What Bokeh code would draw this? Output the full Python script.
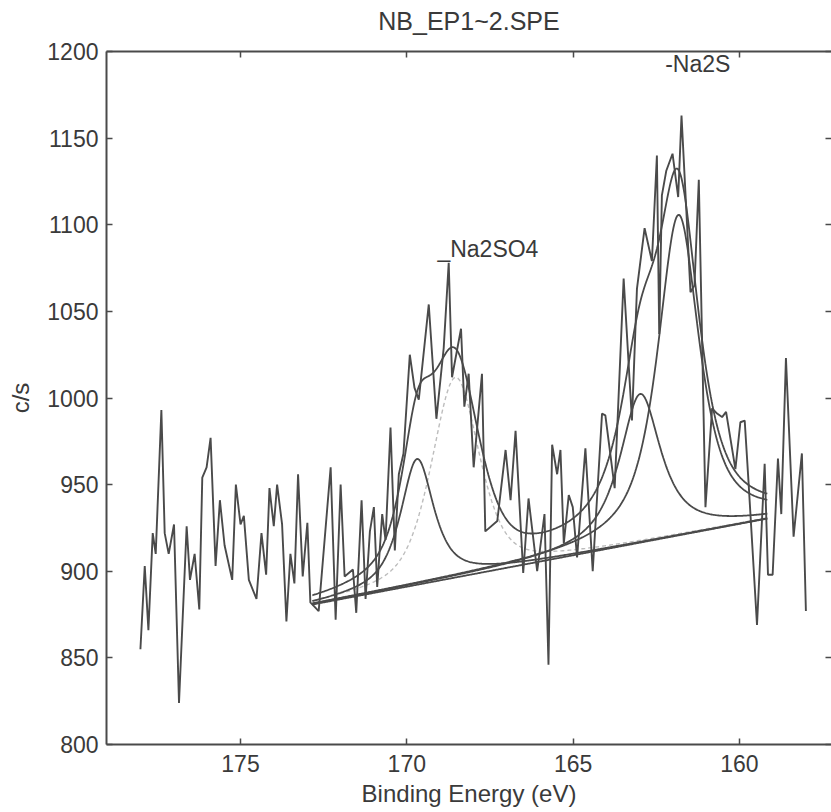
import numpy as np
from bokeh.plotting import figure
from bokeh.models import Range1d, FixedTicker, LinearAxis, Label
from bokeh.embed import file_html
from bokeh.resources import INLINE

# ---- measured spectrum: binding energy (eV) and count rate (c/s) ----
binding_energy = [
    178.01, 177.88, 177.77, 177.64, 177.55, 177.38, 177.28, 177.16, 177.00, 176.85,
    176.62, 176.52, 176.38, 176.24, 176.15, 176.02, 175.90, 175.75, 175.62, 175.48,
    175.25, 175.14, 175.00, 174.90, 174.75, 174.52, 174.37, 174.23, 174.13, 174.00,
    173.90, 173.75, 173.62, 173.50, 173.38, 173.27, 173.13, 172.99, 172.90, 172.65,
    172.29, 172.14, 171.99, 171.87, 171.62, 171.52, 171.36, 171.24, 171.11, 170.99,
    170.89, 170.74, 170.64, 170.49, 170.36, 170.24, 170.10, 169.91, 169.77, 169.64,
    169.34, 169.11, 168.89, 168.74, 168.64, 168.37, 168.27, 168.14, 167.99, 167.74,
    167.64, 167.28, 167.03, 166.88, 166.73, 166.50, 166.34, 166.08, 165.86, 165.74,
    165.63, 165.48, 165.38, 165.28, 165.13, 165.01, 164.88, 164.63, 164.41, 164.13,
    164.03, 163.75, 163.48, 163.23, 163.08, 162.85, 162.63, 162.48, 162.41, 162.33,
    162.20, 162.01, 161.84, 161.74, 161.47, 161.35, 161.22, 161.02, 160.82, 160.67,
    160.52, 160.40, 160.12, 159.97, 159.84, 159.72, 159.47, 159.24, 159.14, 159.00,
    158.84, 158.74, 158.60, 158.37, 158.12, 158.00,
]
counts = [
    855, 903, 866, 922, 910, 993, 922, 910, 927, 824,
    926, 895, 910, 878, 954, 960, 977, 903, 941, 915,
    895, 950, 927, 932, 895, 884, 922, 898, 948, 926,
    950, 927, 871, 910, 893, 956, 897, 928, 882, 877,
    960, 872, 950, 897, 901, 876, 941, 884, 923, 937,
    891, 933, 918, 983, 912, 956, 968, 1025, 1006, 999,
    1054, 988, 1029, 1078, 1012, 1040, 995, 1014, 960, 1014,
    923, 929, 970, 941, 981, 899, 942, 900, 933, 846,
    973, 956, 970, 916, 944, 937, 908, 971, 900, 991,
    990, 948, 1069, 987, 1063, 1098, 1079, 1140, 1037, 1117,
    1131, 1141, 1116, 1163, 1061, 1065, 1126, 937, 994, 991,
    989, 992, 959, 986, 987, 950, 869, 962, 898, 898,
    965, 933, 1023, 920, 968, 877,
]

# ---- peak fit: linear background end points ----
bg_energy = [172.84, 159.16]
bg_counts = [880.8, 930.4]

# ---- fitted components: centre (eV), height above background (c/s),
#      FWHM (eV), Lorentzian fraction ----
peak_center = [169.69, 168.54, 162.98, 161.83]
peak_height = [72.6, 115.5, 85.8, 185.0]
peak_fwhm = [1.2, 1.7, 1.5, 1.5]
peak_lorentz = [0.8, 0.5, 0.9, 0.8]
peak_faint = [False, True, False, False]

# ---- peak labels ----
label_text = ["_Na2SO4", "-Na2S"]
label_energy = [169.08, 162.23]
label_counts = [1086.0, 1193.0]

# ---- title, axes ----
title_text = "NB_EP1~2.SPE"
x_ticks = [175, 170, 165, 160]
y_ticks = [800, 850, 900, 950, 1000, 1050, 1100, 1150, 1200]
x_lo, x_hi = 179.03, 157.23
y_lo, y_hi = 800, 1200

FONT = "Liberation Sans"
INK = "#4a4a4a"
TEXT = "#3a3a3a"

p = figure(
    width=831, height=812,
    output_backend="svg", toolbar_location=None,
    x_range=Range1d(x_lo, x_hi), y_range=Range1d(y_lo, y_hi),
    min_border_left=106, min_border_right=0,
    min_border_top=51, min_border_bottom=68,
    background_fill_color="white", border_fill_color="white",
)
p.outline_line_color = None
p.xgrid.visible = False
p.ygrid.visible = False


def style_axis(ax, show_line=True):
    ax.major_tick_in = 6
    ax.major_tick_out = 0
    ax.minor_tick_in = 0
    ax.minor_tick_out = 0
    ax.major_tick_line_color = INK
    ax.major_tick_line_width = 1.5
    ax.axis_line_color = INK if show_line else None
    ax.axis_line_width = 2
    ax.major_label_text_font = FONT
    ax.major_label_text_font_size = "23px"
    ax.major_label_text_color = TEXT
    ax.axis_label_text_font = FONT
    ax.axis_label_text_font_size = "24px"
    ax.axis_label_text_font_style = "normal"
    ax.axis_label_text_color = TEXT


def ticks_only(ax):
    # tick marks without labels on the opposite frame edges
    ax.major_label_text_color = None
    ax.major_label_text_font_size = "1px"
    ax.major_label_standoff = 0


xa = p.xaxis[0]
style_axis(xa)
xa.ticker = FixedTicker(ticks=x_ticks)
xa.major_label_standoff = 10
xa.axis_label = "Binding Energy (eV)"
xa.axis_label_standoff = 5

ya = p.yaxis[0]
style_axis(ya)
ya.ticker = FixedTicker(ticks=y_ticks)
ya.major_label_standoff = 8
ya.axis_label = "c/s"
ya.axis_label_standoff = 10

# top edge: ticks, with the spectrum name centred above the frame
top = LinearAxis(ticker=FixedTicker(ticks=x_ticks))
style_axis(top)
ticks_only(top)
top.axis_label = title_text
top.axis_label_text_font_size = "25px"
top.axis_label_standoff = 17
p.add_layout(top, "above")

right = LinearAxis(ticker=FixedTicker(ticks=y_ticks))
style_axis(right, show_line=False)
ticks_only(right)
p.add_layout(right, "right")

# ---- fit curves ----
e = np.linspace(bg_energy[0], bg_energy[1], 500)
bg = bg_counts[0] + (e - bg_energy[0]) * (bg_counts[1] - bg_counts[0]) / (bg_energy[1] - bg_energy[0])


def gl_shape(x, c, h, w, m):
    t = ((x - c) / (w / 2.0)) ** 2
    return h * (m / (1.0 + t) + (1.0 - m) * np.exp(-np.log(2.0) * t))


comps = [gl_shape(e, c, h, w, m) for c, h, w, m in zip(peak_center, peak_height, peak_fwhm, peak_lorentz)]

for comp, faint in zip(comps, peak_faint):
    if faint:
        p.line(e, bg + comp, line_color="#bdbdbd", line_width=1.4, line_dash="4 3")

# spectrum
p.line(binding_energy, counts, line_color=INK, line_width=1.9)

for comp, faint in zip(comps, peak_faint):
    if not faint:
        p.line(e, bg + comp, line_color=INK, line_width=1.8)

p.line(e, bg + sum(comps), line_color=INK, line_width=1.8)
p.line(e, bg, line_color=INK, line_width=1.8)

for t, x, y in zip(label_text, label_energy, label_counts):
    p.add_layout(Label(x=x, y=y, text=t, text_font=FONT, text_font_size="23px",
                       text_color=TEXT, text_align="left", text_baseline="alphabetic"))

open("out.html", "w").write(file_html(p, INLINE))
